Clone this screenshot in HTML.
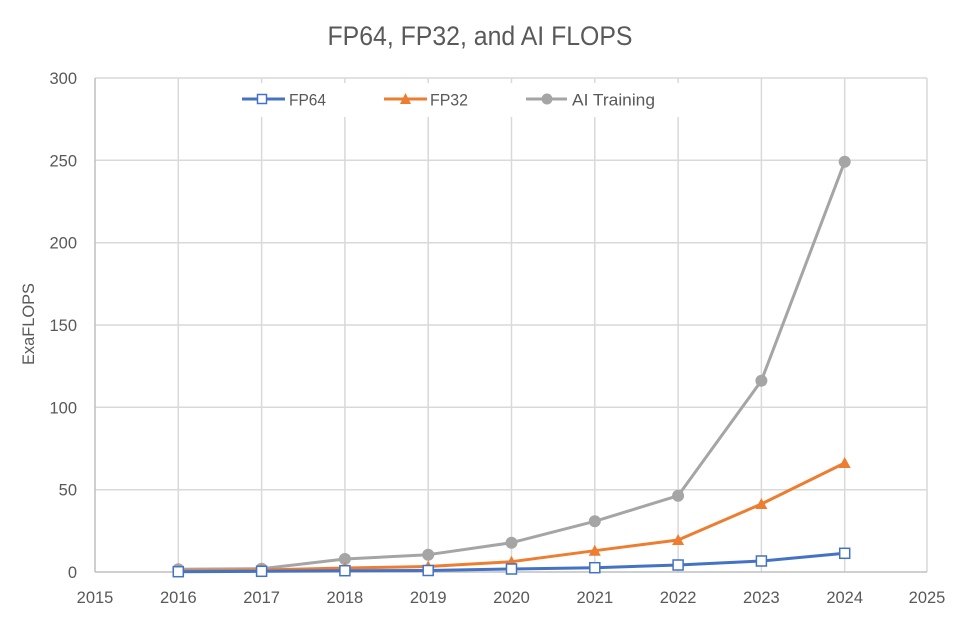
<!DOCTYPE html>
<html>
<head>
<meta charset="utf-8">
<style>
html,body{margin:0;padding:0;background:#fff;}
svg{display:block;}
text{font-family:"Liberation Sans",sans-serif;fill:#595959;}
</style>
</head>
<body>
<svg width="960" height="644" viewBox="0 0 960 644" xmlns="http://www.w3.org/2000/svg">
<rect width="960" height="644" fill="#fff"/>
<text x="480" y="45" font-size="27" text-anchor="middle" textLength="305" lengthAdjust="spacingAndGlyphs">FP64, FP32, and AI FLOPS</text>
<g stroke="#D9D9D9" stroke-width="1.5" fill="none">
<line x1="95" y1="78" x2="927" y2="78"/>
<line x1="95" y1="160.3" x2="927" y2="160.3"/>
<line x1="95" y1="242.7" x2="927" y2="242.7"/>
<line x1="95" y1="325" x2="927" y2="325"/>
<line x1="95" y1="407.3" x2="927" y2="407.3"/>
<line x1="95" y1="489.7" x2="927" y2="489.7"/>
<line x1="178.3" y1="78" x2="178.3" y2="572"/>
<line x1="261.6" y1="78" x2="261.6" y2="572"/>
<line x1="344.9" y1="78" x2="344.9" y2="572"/>
<line x1="428.2" y1="78" x2="428.2" y2="572"/>
<line x1="511.5" y1="78" x2="511.5" y2="572"/>
<line x1="594.8" y1="78" x2="594.8" y2="572"/>
<line x1="678.1" y1="78" x2="678.1" y2="572"/>
<line x1="761.4" y1="78" x2="761.4" y2="572"/>
<line x1="844.7" y1="78" x2="844.7" y2="572"/>
<line x1="927" y1="78" x2="927" y2="572"/>
</g>
<g stroke="#BFBFBF" stroke-width="1.5">
<line x1="95" y1="78" x2="95" y2="572"/>
<line x1="95" y1="572" x2="927" y2="572"/>
</g>
<g font-size="16.5" text-anchor="end">
<text x="77" y="84">300</text>
<text x="77" y="166.3">250</text>
<text x="77" y="248.7">200</text>
<text x="77" y="331">150</text>
<text x="77" y="413.3">100</text>
<text x="77" y="495.7">50</text>
<text x="77" y="578">0</text>
</g>
<g font-size="16.5" text-anchor="middle">
<text x="95" y="603">2015</text>
<text x="178.3" y="603">2016</text>
<text x="261.6" y="603">2017</text>
<text x="344.9" y="603">2018</text>
<text x="428.2" y="603">2019</text>
<text x="511.5" y="603">2020</text>
<text x="594.8" y="603">2021</text>
<text x="678.1" y="603">2022</text>
<text x="761.4" y="603">2023</text>
<text x="844.7" y="603">2024</text>
<text x="927" y="603">2025</text>
</g>
<text transform="translate(34,324) rotate(-90)" font-size="16.5" text-anchor="middle" textLength="82" lengthAdjust="spacingAndGlyphs">ExaFLOPS</text>

<!-- AI Training -->
<polyline fill="none" stroke="#A5A5A5" stroke-width="3" stroke-linejoin="round" points="178.3,569.3 261.6,568.7 344.9,559 428.2,554.7 511.5,542.7 594.8,521.3 678.1,495.7 761.4,380.7 844.7,161.7"/>
<g fill="#A5A5A5">
<circle cx="178.3" cy="569.3" r="6"/>
<circle cx="261.6" cy="568.7" r="6"/>
<circle cx="344.9" cy="559" r="6"/>
<circle cx="428.2" cy="554.7" r="6"/>
<circle cx="511.5" cy="542.7" r="6"/>
<circle cx="594.8" cy="521.3" r="6"/>
<circle cx="678.1" cy="495.7" r="6"/>
<circle cx="761.4" cy="380.7" r="6"/>
<circle cx="844.7" cy="161.7" r="6"/>
</g>

<!-- FP32 -->
<polyline fill="none" stroke="#ED7D31" stroke-width="3" stroke-linejoin="round" points="178.3,571 261.6,570 344.9,568 428.2,566.5 511.5,561.7 594.8,550.7 678.1,540 761.4,504 844.7,463"/>
<g fill="#ED7D31">
<polygon points="178.3,565 184.3,576 172.3,576"/>
<polygon points="261.6,564 267.6,575 255.6,575"/>
<polygon points="344.9,562 350.9,573 338.9,573"/>
<polygon points="428.2,560.5 434.2,571.5 422.2,571.5"/>
<polygon points="511.5,555.7 517.5,566.7 505.5,566.7"/>
<polygon points="594.8,544.7 600.8,555.7 588.8,555.7"/>
<polygon points="678.1,534 684.1,545 672.1,545"/>
<polygon points="761.4,498 767.4,509 755.4,509"/>
<polygon points="844.7,457 850.7,468 838.7,468"/>
</g>

<!-- FP64 -->
<polyline fill="none" stroke="#4472C4" stroke-width="3" stroke-linejoin="round" points="178.3,571.7 261.6,571.3 344.9,570.7 428.2,570.5 511.5,569 594.8,567.7 678.1,565 761.4,561 844.7,553.3"/>
<g fill="#fff" stroke="#4472C4" stroke-width="1.5">
<rect x="173.3" y="566.7" width="10" height="10"/>
<rect x="256.6" y="566.3" width="10" height="10"/>
<rect x="339.9" y="565.7" width="10" height="10"/>
<rect x="423.2" y="565.5" width="10" height="10"/>
<rect x="506.5" y="564" width="10" height="10"/>
<rect x="589.8" y="562.7" width="10" height="10"/>
<rect x="673.1" y="560" width="10" height="10"/>
<rect x="756.4" y="556" width="10" height="10"/>
<rect x="839.7" y="548.3" width="10" height="10"/>
</g>

<!-- Legend -->
<rect x="232" y="83" width="458" height="34" fill="#fff"/>
<line x1="242" y1="99" x2="285" y2="99" stroke="#4472C4" stroke-width="3"/>
<rect x="257.5" y="94.5" width="9" height="9" fill="#fff" stroke="#4472C4" stroke-width="1.5"/>
<text x="289" y="105.5" font-size="17" textLength="37" lengthAdjust="spacingAndGlyphs">FP64</text>
<line x1="384" y1="99" x2="427" y2="99" stroke="#ED7D31" stroke-width="3"/>
<polygon points="405.5,93 411,104 400,104" fill="#ED7D31"/>
<text x="430" y="105.5" font-size="17" textLength="38" lengthAdjust="spacingAndGlyphs">FP32</text>
<line x1="526" y1="99" x2="567" y2="99" stroke="#A5A5A5" stroke-width="3"/>
<circle cx="547" cy="99" r="5.5" fill="#A5A5A5"/>
<text x="572" y="105.5" font-size="17" textLength="83" lengthAdjust="spacingAndGlyphs">AI Training</text>
</svg>
</body>
</html>
